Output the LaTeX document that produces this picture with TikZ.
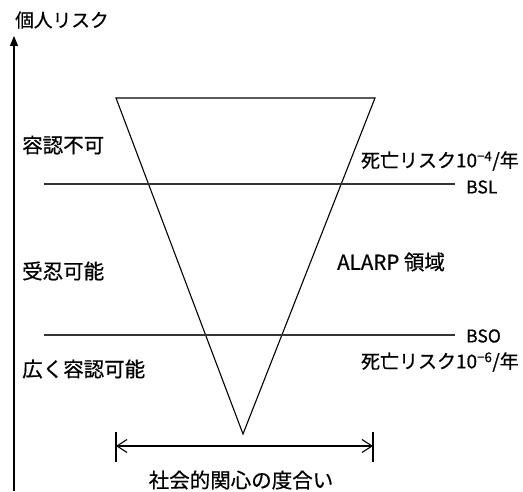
\documentclass[tikz,border=0pt]{standalone}
\usepackage{fontspec}
\setmainfont{Noto Sans CJK JP}[FakeBold=0.6]
\usetikzlibrary{arrows.meta}
\begin{document}
\begin{tikzpicture}[x=1pt,y=-1pt,
  lbl/.style={font=\fontsize{20.5}{22}\selectfont, inner sep=0pt},
  lblr/.style={font=\fontsize{19}{21}\selectfont, inner sep=0pt},
  lbls/.style={font=\fontsize{17.5}{20}\selectfont, inner sep=0pt},
  ln/.style={line width=1.3pt, draw=black!80},
  thin/.style={line width=1.1pt}]
\useasboundingbox (0,0) rectangle (523,492);
% axis
\coordinate (ab) at (14,491);
\coordinate (at) at (14,36);
\draw[thin,-{Triangle[length=10pt,width=8pt]}] (ab) -- (at);
\node[font=\fontsize{18.7}{20}\selectfont, inner sep=0pt,anchor=west] (yl) at (15,20) {個人リスク};
% triangle
\coordinate (t1) at (116,98);
\coordinate (t2) at (375,98);
\coordinate (t3) at (243,434);
\draw[thin] (t1) -- (t2) -- (t3) -- cycle;
% lines
\coordinate (bsl1) at (44,184);
\coordinate (bsl2) at (455,184);
\coordinate (bso1) at (44,335);
\coordinate (bso2) at (455,335);
\draw[ln] (bsl1) -- (bsl2);
\draw[ln] (bso1) -- (bso2);
\node[lbls,anchor=west] (bsl) at (466,187) {BSL};
\node[lbls,anchor=west] (bso) at (466,336) {BSO};
\node[lblr,anchor=east] (r4) at (519,161) {死亡リスク10\textsuperscript{−4}/年};
\node[lblr,anchor=east] (r6) at (519,362) {死亡リスク10\textsuperscript{−6}/年};
\node[lbl,anchor=west] (z1) at (22,145) {容認不可};
\node[lbl,anchor=west] (z2) at (22,271) {受忍可能};
\node[lbl,anchor=west] (z3) at (22,369) {広く容認可能};
\node[lbl,anchor=west] (al) at (337,262) {ALARP 領域};
% double arrow
\coordinate (d1) at (116,446);
\coordinate (d2) at (373,446);
\draw[thin] (116,432) -- (116,462);
\draw[thin] (373,432) -- (373,462);
\draw[thin,{Straight Barb[length=10pt,width=13pt]}-{Straight Barb[length=10pt,width=13pt]}] (d1) -- (d2);
\node[lbl] (xl) at (241,480) {社会的関心の度合い};
\end{tikzpicture}
\end{document}
